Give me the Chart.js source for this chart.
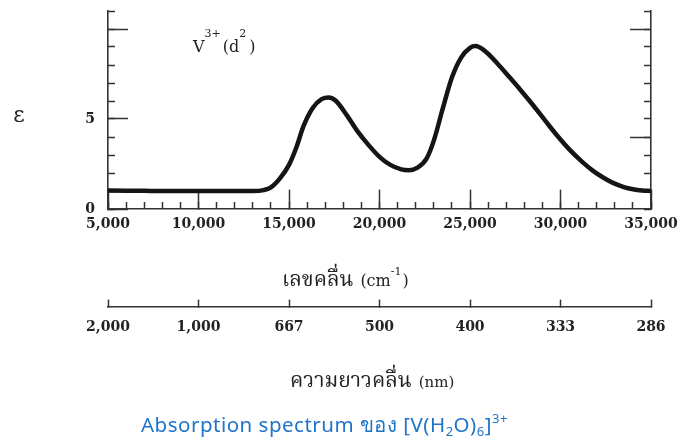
<!DOCTYPE html>
<html>
<head>
<meta charset="utf-8">
<script src="https://cdn.jsdelivr.net/npm/chart.js@4.4.1/dist/chart.umd.min.js"></script>
<style>
  html, body { margin: 0; padding: 0; background: #fff; }
</style>
</head>
<body>
<canvas id="spectrum" width="689" height="443"></canvas>
<script>
// Absorption spectrum of [V(H2O)6]3+ : wavenumber (cm-1) vs epsilon

const WAVENUMBERS = [5000, 6000, 7000, 8000, 9000, 10000, 11000, 12000, 13000, 13600, 14000, 14500,
  15000, 15400, 15800, 16300, 16800, 17200, 17600, 18200, 18800, 19400, 20000, 20600, 21200, 21600,
  22100, 22600, 23000, 23500, 24000, 24500, 25000, 25300, 25800, 26500, 27200, 27800, 28500, 29200,
  29800, 30500, 31200, 31800, 32400, 32900, 33500, 34000, 34500, 35000];
const EPSILON = [1.03, 1.02, 1.01, 1.0, 1.0, 1.0, 1.0, 1.0, 1.0, 1.05, 1.2, 1.7,
  2.45, 3.4, 4.6, 5.6, 6.1, 6.2, 6.0, 5.2, 4.3, 3.55, 2.9, 2.45, 2.2, 2.15,
  2.3, 2.8, 3.8, 5.6, 7.3, 8.4, 8.95, 9.05, 8.8, 8.1, 7.3, 6.6, 5.75, 4.85,
  4.1, 3.3, 2.62, 2.12, 1.72, 1.45, 1.22, 1.1, 1.03, 1.0];

const X_MAJOR = [5000, 10000, 15000, 20000, 25000, 30000, 35000];
const NM_LABELS = ['2,000', '1,000', '667', '500', '400', '333', '286'];
const Y_LEFT_MAJOR = [0, 5, 10];
const Y_LABELED = [0, 5];
const Y_RIGHT_MAJOR = [4, 10];

const COLORS = {
  axis: '#333333',
  line: '#151515',
  text: '#222222',
  caption: '#1f74c9',
};
const SERIF = '"DejaVu Serif", "Liberation Serif", serif';
const THAI = '"Noto Serif Thai", "Noto Sans Thai", "Loma", "Norasi", "Garuda", "Noto Sans", sans-serif';
const SANS = '"Noto Sans", "Open Sans", sans-serif';

function fixedTicks(values) {
  return (scale) => { scale.ticks = values.map((v) => ({ value: v })); };
}

// the layout padding already reserves room for labels
function noPadding(scale) {
  scale.paddingLeft = scale.paddingRight = scale.paddingTop = scale.paddingBottom = 0;
}

// tick-only axis: ticks are drawn inward, no labels
function tickAxis(position, min, max, tickLength, extra) {
  return Object.assign({
    type: 'linear',
    position: position,
    min: min,
    max: max,
    afterFit: noPadding,
    ticks: { display: false },
    grid: { drawOnChartArea: false, tickLength: tickLength, tickColor: COLORS.axis, tickWidth: 1.5 },
    border: { display: false },
  }, extra);
}

function drawRuns(ctx, x, y, runs) {
  for (const r of runs) {
    ctx.font = r.font;
    ctx.fillText(r.text, x, y + (r.dy || 0));
    x += ctx.measureText(r.text).width + (r.gap || 0);
  }
}

const textLayer = {
  id: 'textLayer',
  afterDraw(chart) {
    const ctx = chart.ctx;
    const xs = chart.scales.x;
    const ys = chart.scales.y;
    ctx.save();
    ctx.fillStyle = COLORS.text;

    // y axis symbol
    ctx.font = '22px ' + SERIF;
    ctx.textAlign = 'center';
    ctx.textBaseline = 'middle';
    ctx.fillText('\u03b5', 19, 116);
    ctx.textAlign = 'left';
    ctx.textBaseline = 'alphabetic';

    // ion label inside the plot
    drawRuns(ctx, xs.getPixelForValue(9700), ys.getPixelForValue(8.7), [
      { text: 'V', font: '16px ' + SERIF },
      { text: '3+', font: '11px ' + SERIF, dy: -15, gap: 2 },
      { text: '(d', font: '16px ' + SERIF },
      { text: '2', font: '11px ' + SERIF, dy: -15, gap: 3 },
      { text: ')', font: '16px ' + SERIF },
    ]);

    // wavenumber axis title
    drawRuns(ctx, 282, 286, [
      { text: 'เลขคลื่น', font: '21px ' + THAI, gap: 7 },
      { text: '(cm', font: '16px ' + SERIF },
      { text: '-1', font: '11px ' + SERIF, dy: -11, gap: 1 },
      { text: ')', font: '16px ' + SERIF },
    ]);

    // wavelength axis title
    drawRuns(ctx, 290, 387, [
      { text: 'ความยาวคลื่น', font: '21px ' + THAI, gap: 7 },
      { text: '(nm)', font: '15px ' + SERIF },
    ]);

    // caption
    ctx.fillStyle = COLORS.caption;
    ctx.letterSpacing = '0.5px';
    drawRuns(ctx, 141, 432, [
      { text: 'Absorption spectrum ของ [V(H', font: '20.5px ' + SANS },
      { text: '2', font: '13px ' + SANS, dy: 4 },
      { text: 'O)', font: '20.5px ' + SANS },
      { text: '6', font: '13px ' + SANS, dy: 4 },
      { text: ']', font: '20.5px ' + SANS },
      { text: '3+', font: '13px ' + SANS, dy: -9 },
    ]);
    ctx.restore();
  },
};

const points = WAVENUMBERS.map((w, i) => ({ x: w, y: EPSILON[i] }));
const labelFont = { family: SERIF, size: 14, weight: 'bold' };

new Chart(document.getElementById('spectrum').getContext('2d'), {
  type: 'line',
  data: {
    datasets: [{
      data: points,
      borderColor: COLORS.line,
      borderWidth: 4.5,
      pointRadius: 0,
      cubicInterpolationMode: 'monotone',
      clip: 4,
    }],
  },
  options: {
    responsive: false,
    animation: false,
    events: [],
    layout: { padding: { left: 0, right: 38, top: 11, bottom: 234 } },
    plugins: { legend: { display: false }, tooltip: { enabled: false } },
    scales: {
      x: {
        type: 'linear',
        position: { y: 0 },
        min: 5000,
        max: 35000,
        afterBuildTicks: fixedTicks(X_MAJOR),
        afterFit: noPadding,
        ticks: {
          color: COLORS.text,
          font: labelFont,
          padding: 27,
          maxRotation: 0,
          autoSkip: false,
          callback: (v) => v.toLocaleString('en-US'),
        },
        grid: { drawOnChartArea: false, tickLength: -20, tickColor: COLORS.axis, tickWidth: 1.5 },
        border: { display: true, color: COLORS.axis, width: 1.6 },
      },
      xMinor: tickAxis({ y: 0 }, 5000, 35000, -7, { ticks: { display: false, stepSize: 1000 } }),
      xNm: {
        type: 'linear',
        position: { y: -5.45 },
        min: 5000,
        max: 35000,
        afterBuildTicks: fixedTicks(X_MAJOR),
        afterFit: noPadding,
        ticks: {
          color: COLORS.text,
          font: labelFont,
          padding: 20,
          maxRotation: 0,
          autoSkip: false,
          callback: (v, i) => NM_LABELS[i],
        },
        grid: { drawOnChartArea: false, tickLength: -8, tickColor: COLORS.axis, tickWidth: 1.5 },
        border: { display: true, color: COLORS.axis, width: 1.6 },
      },
      y: {
        type: 'linear',
        position: 'left',
        min: 0,
        max: 11,
        afterFit: (scale) => { noPadding(scale); scale.width = 108; },
        afterBuildTicks: fixedTicks(Y_LEFT_MAJOR),
        ticks: {
          color: COLORS.text,
          font: labelFont,
          padding: 33,
          callback: (v) => (Y_LABELED.includes(v) ? String(v) : ''),
        },
        grid: { drawOnChartArea: false, tickLength: -20, tickColor: COLORS.axis, tickWidth: 1.5 },
        border: { display: true, color: COLORS.axis, width: 1.6 },
      },
      yMinor: tickAxis({ x: 5000 }, 0, 11, -7, { ticks: { display: false, stepSize: 1 } }),
      yRight: tickAxis({ x: 35000 }, 0, 11, 20, {
        afterBuildTicks: fixedTicks(Y_RIGHT_MAJOR),
        border: { display: true, color: COLORS.axis, width: 1.6 },
      }),
      yRightMinor: tickAxis({ x: 35000 }, 0, 11, 7, { ticks: { display: false, stepSize: 1 } }),
    },
  },
  plugins: [textLayer],
});
</script>
</body>
</html>
